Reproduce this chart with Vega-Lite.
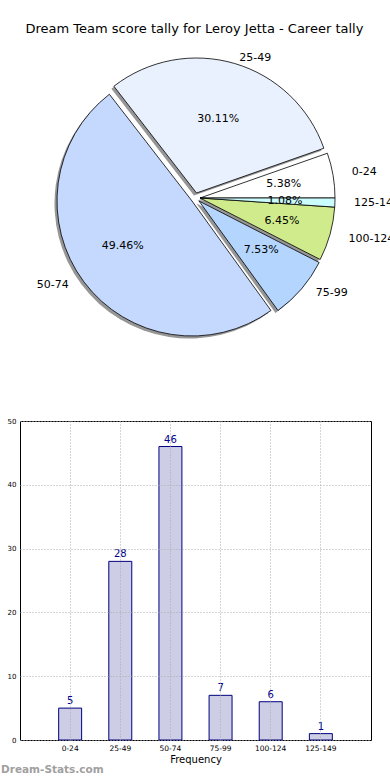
{
  "$schema": "https://vega.github.io/schema/vega-lite/v6.json",
  "padding": {"left": 0, "top": 23, "right": 0, "bottom": 0},
  "background": "white",
  "title": {"text": "Dream Team score tally for Leroy Jetta - Career tally", "fontSize": 13, "fontWeight": "normal", "font": "DejaVu Sans", "color": "black", "anchor": "start", "dx": 25, "offset": 3},
  "datasets": {
    "tally": [
      {"range": "0-24", "count": 5, "pct": "5.38%", "k": 6},
      {"range": "25-49", "count": 28, "pct": "30.11%", "k": 5},
      {"range": "50-74", "count": 46, "pct": "49.46%", "k": 4},
      {"range": "75-99", "count": 7, "pct": "7.53%", "k": 3},
      {"range": "100-124", "count": 6, "pct": "6.45%", "k": 2},
      {"range": "125-149", "count": 1, "pct": "1.08%", "k": 1}
    ]
  },
  "spacing": 59,
  "vconcat": [
    {
      "width": 360,
      "height": 318,
      "data": {"name": "tally"},
      "encoding": {
        "theta": {"field": "count", "type": "quantitative", "stack": true, "scale": {"range": [1.5708, 7.854]}},
        "order": {"field": "k", "type": "quantitative"}
      },
      "layer": [
        {"mark": {"type": "arc", "radius": 135, "fill": "#969696", "xOffset": -2.5, "yOffset": 2.5},
         "encoding": {"opacity": {"condition": {"test": "indexof(['0-24','100-124','125-149'], datum.range) >= 0", "value": 1}, "value": 0}}},
        {"mark": {"type": "arc", "radius": 135, "fill": "#969696", "xOffset": -6, "yOffset": -2.5},
         "encoding": {"opacity": {"condition": {"test": "datum.range === '25-49'", "value": 1}, "value": 0}}},
        {"mark": {"type": "arc", "radius": 135, "fill": "#969696", "xOffset": -10.5, "yOffset": 5.5},
         "encoding": {"opacity": {"condition": {"test": "datum.range === '50-74'", "value": 1}, "value": 0}}},
        {"mark": {"type": "arc", "radius": 135, "fill": "#969696", "xOffset": -3.5, "yOffset": 5.5},
         "encoding": {"opacity": {"condition": {"test": "datum.range === '75-99'", "value": 1}, "value": 0}}},
        {"mark": {"type": "arc", "radius": 135, "stroke": "black", "strokeWidth": 0.8, "xOffset": 0, "yOffset": 0},
         "encoding": {
           "color": {"field": "range", "type": "nominal", "legend": null, "scale": {"domain": ["0-24", "25-49", "50-74", "75-99", "100-124", "125-149"], "range": ["#ffffff", "#eaf1fe", "#c5d9fe", "#b3d5fe", "#cfeb8b", "#ccfdfe"]}},
           "opacity": {"condition": {"test": "indexof(['0-24','100-124','125-149'], datum.range) >= 0", "value": 1}, "value": 0}}},
        {"mark": {"type": "arc", "radius": 135, "stroke": "black", "strokeWidth": 0.8, "xOffset": -3.5, "yOffset": -5},
         "encoding": {
           "color": {"field": "range", "type": "nominal", "legend": null},
           "opacity": {"condition": {"test": "datum.range === '25-49'", "value": 1}, "value": 0}}},
        {"mark": {"type": "arc", "radius": 135, "stroke": "black", "strokeWidth": 0.8, "xOffset": -8, "yOffset": 3},
         "encoding": {
           "color": {"field": "range", "type": "nominal", "legend": null},
           "opacity": {"condition": {"test": "datum.range === '50-74'", "value": 1}, "value": 0}}},
        {"mark": {"type": "arc", "radius": 135, "stroke": "black", "strokeWidth": 0.8, "xOffset": -1, "yOffset": 3},
         "encoding": {
           "color": {"field": "range", "type": "nominal", "legend": null},
           "opacity": {"condition": {"test": "datum.range === '75-99'", "value": 1}, "value": 0}}},
        {"mark": {"type": "text", "radius": 85, "fontSize": 11, "font": "DejaVu Sans", "color": "black", "align": "center", "baseline": "middle", "xOffset": 0, "yOffset": 0},
         "encoding": {"text": {"field": "pct"}, "opacity": {"condition": {"test": "indexof(['0-24','100-124','125-149'], datum.range) >= 0", "value": 1}, "value": 0}}},
        {"mark": {"type": "text", "radius": 77, "fontSize": 11, "font": "DejaVu Sans", "color": "black", "align": "center", "baseline": "middle", "xOffset": -3.5, "yOffset": -5},
         "encoding": {"text": {"field": "pct"}, "opacity": {"condition": {"test": "datum.range === '25-49'", "value": 1}, "value": 0}}},
        {"mark": {"type": "text", "radius": 84, "fontSize": 11, "font": "DejaVu Sans", "color": "black", "align": "center", "baseline": "middle", "xOffset": -10, "yOffset": -2},
         "encoding": {"text": {"field": "pct"}, "opacity": {"condition": {"test": "datum.range === '50-74'", "value": 1}, "value": 0}}},
        {"mark": {"type": "text", "radius": 82, "fontSize": 11, "font": "DejaVu Sans", "color": "black", "align": "center", "baseline": "middle", "xOffset": -1, "yOffset": -1},
         "encoding": {"text": {"field": "pct"}, "opacity": {"condition": {"test": "datum.range === '75-99'", "value": 1}, "value": 0}}},
        {"mark": {"type": "text", "radius": 154, "fontSize": 11, "font": "DejaVu Sans", "color": "black", "align": "left", "baseline": "middle", "xOffset": 0, "yOffset": 0},
         "encoding": {"text": {"field": "range"}, "opacity": {"condition": {"test": "indexof(['0-24','100-124','125-149'], datum.range) >= 0", "value": 1}, "value": 0}}},
        {"mark": {"type": "text", "radius": 142, "fontSize": 11, "font": "DejaVu Sans", "color": "black", "align": "left", "baseline": "middle", "xOffset": -1, "yOffset": -4},
         "encoding": {"text": {"field": "range"}, "opacity": {"condition": {"test": "datum.range === '25-49'", "value": 1}, "value": 0}}},
        {"mark": {"type": "text", "radius": 154, "fontSize": 11, "font": "DejaVu Sans", "color": "black", "align": "right", "baseline": "middle", "xOffset": -8, "yOffset": -5},
         "encoding": {"text": {"field": "range"}, "opacity": {"condition": {"test": "datum.range === '50-74'", "value": 1}, "value": 0}}},
        {"mark": {"type": "text", "radius": 154, "fontSize": 11, "font": "DejaVu Sans", "color": "black", "align": "left", "baseline": "middle", "xOffset": -1, "yOffset": -5},
         "encoding": {"text": {"field": "range"}, "opacity": {"condition": {"test": "datum.range === '75-99'", "value": 1}, "value": 0}}}
      ]
    },
    {
      "width": 351,
      "height": 319,
      "view": {"stroke": "black", "strokeWidth": 1},
      "data": {"name": "tally"},
      "title": {"text": "Dream-Stats.com", "orient": "bottom", "anchor": "start", "frame": "group", "dx": -19, "offset": 0, "fontSize": 10.5, "fontWeight": "bold", "font": "DejaVu Sans", "color": "#a0a0a0"},
      "encoding": {
        "x": {"field": "range", "type": "nominal", "sort": ["0-24", "25-49", "50-74", "75-99", "100-124", "125-149"],
              "scale": {"paddingInner": 0.542, "paddingOuter": 0.771},
              "axis": {"title": "Frequency", "titleFontSize": 10, "titleFontWeight": "normal", "titleColor": "black", "titleFont": "DejaVu Sans", "titlePadding": 3,
                       "labelFontSize": 7.5, "labelFont": "DejaVu Sans", "labelColor": "black", "labelAngle": 0, "labelPadding": 4,
                       "domain": false, "ticks": false, "grid": true, "gridDash": [1, 2], "gridColor": "#aaaaaa", "bandPosition": 0.5, "zindex": 1}},
        "y": {"field": "count", "type": "quantitative", "scale": {"domain": [0, 50], "nice": false},
              "axis": {"title": null, "values": [0, 10, 20, 30, 40, 50], "labelFontSize": 7, "labelFont": "DejaVu Sans", "labelColor": "black", "labelPadding": 4,
                       "domain": false, "ticks": false, "grid": true, "gridDash": [1, 2], "gridColor": "#aaaaaa", "zindex": 1}}
      },
      "layer": [
        {"mark": {"type": "bar", "fill": "#cdcde5", "stroke": "#00007f", "strokeWidth": 1}},
        {"mark": {"type": "text", "baseline": "bottom", "dy": -2, "fontSize": 10, "font": "DejaVu Sans", "color": "#00008b"},
         "encoding": {"text": {"field": "count", "type": "quantitative"}}}
      ]
    }
  ],
  "config": {"view": {"stroke": null}, "font": "DejaVu Sans"}
}
